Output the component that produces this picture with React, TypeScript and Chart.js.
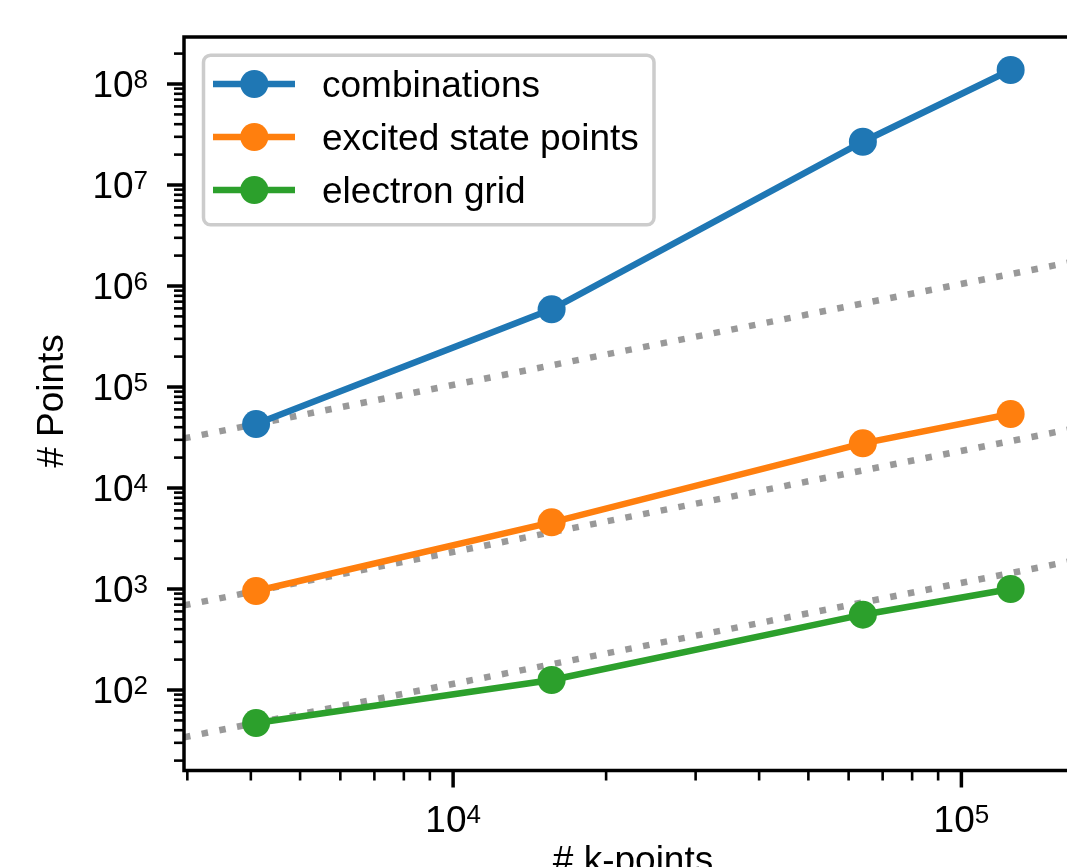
import React, { useEffect, useRef } from 'react';
import { Chart, registerables } from 'chart.js';

Chart.register(...registerables);

// ---- data ----
const kPoints = [4096, 15625, 64000, 125000];
const combinations = [43000, 587000, 26800000, 137600000];
const excitedStatePoints = [955, 4570, 27700, 54000];
const electronGrid = [47.1, 125.6, 557, 1000];

// dotted linear-scaling reference lines (endpoints at the axis limits)
const refX = [2955, 172700];
const refCombinations = [31000, 1813000];
const refExcited = [689, 40260];
const refElectron = [34.0, 1986];

const seriesLabels = ['combinations', 'excited state points', 'electron grid'];
const seriesColors = ['#1f77b4', '#ff7f0e', '#2ca02c'];
const refColor = '#999999';

const xRange = [2955, 172700];
const yRange = [15.96, 2.92e8];
const xTickExponents = [4, 5];
const yTickExponents = [2, 3, 4, 5, 6, 7, 8];
const xTitle = '# k-points';
const yTitle = '# Points';

const FONT = "'Liberation Sans', Arial, Helvetica, sans-serif";

const pts = (xs: number[], ys: number[]) => xs.map((x, i) => ({ x, y: ys[i] }));

const overlay = {
  id: 'overlay',
  afterDraw(chart: any) {
    const ctx: CanvasRenderingContext2D = chart.ctx;
    const { left, right, top, bottom } = chart.chartArea;
    const xs = chart.scales.x;
    const ys = chart.scales.y;
    ctx.save();

    // spines
    ctx.strokeStyle = '#000';
    ctx.lineWidth = 3.5;
    ctx.strokeRect(left, top, right - left, bottom - top);

    // ticks
    const drawTicks = (scale: any, isX: boolean) => {
      const min = scale.min;
      const max = scale.max;
      for (let e = Math.floor(Math.log10(min)); e <= Math.ceil(Math.log10(max)); e++) {
        for (let k = 1; k <= 9; k++) {
          const v = k * Math.pow(10, e);
          if (v < min * 0.9999 || v > max * 1.0001) continue;
          const p = scale.getPixelForValue(v);
          const major = k === 1;
          const len = major ? 17 : 10;
          ctx.lineWidth = major ? 3.5 : 2.6;
          ctx.beginPath();
          if (isX) {
            ctx.moveTo(p, bottom);
            ctx.lineTo(p, bottom + len);
          } else {
            ctx.moveTo(left, p);
            ctx.lineTo(left - len, p);
          }
          ctx.stroke();
        }
      }
    };
    drawTicks(xs, true);
    drawTicks(ys, false);

    // tick labels 10^n
    ctx.fillStyle = '#000';
    ctx.textAlign = 'left';
    ctx.textBaseline = 'alphabetic';
    const baseFont = `37px ${FONT}`;
    const supFont = `26px ${FONT}`;
    const measure = (exp: number) => {
      ctx.font = baseFont;
      const bw = ctx.measureText('10').width;
      ctx.font = supFont;
      const sw = ctx.measureText(String(exp)).width;
      return { bw, sw };
    };
    const drawPow = (x0: number, baseY: number, exp: number) => {
      const { bw } = measure(exp);
      ctx.font = baseFont;
      ctx.fillText('10', x0, baseY);
      ctx.font = supFont;
      ctx.fillText(String(exp), x0 + bw, baseY - 9);
    };
    yTickExponents.forEach((e) => {
      const v = Math.pow(10, e);
      if (v < ys.min || v > ys.max) return;
      const p = ys.getPixelForValue(v);
      const { bw, sw } = measure(e);
      drawPow(148 - bw - sw, p + 13.3, e);
    });
    xTickExponents.forEach((e) => {
      const v = Math.pow(10, e);
      if (v < xs.min || v > xs.max) return;
      const p = xs.getPixelForValue(v);
      const { bw, sw } = measure(e);
      drawPow(p - (bw + sw) / 2, 831.7, e);
    });

    // axis titles
    ctx.font = `37px ${FONT}`;
    ctx.textAlign = 'center';
    ctx.fillText(xTitle, (left + right) / 2, 871.5);
    ctx.save();
    ctx.translate(63, 401);
    ctx.rotate(-Math.PI / 2);
    ctx.fillText(yTitle, 0, 0);
    ctx.restore();

    // legend
    const lx = 203.5, ly = 55.3, lw = 450.5, lh = 169.4, r = 7;
    ctx.beginPath();
    ctx.moveTo(lx + r, ly);
    ctx.lineTo(lx + lw - r, ly);
    ctx.arcTo(lx + lw, ly, lx + lw, ly + r, r);
    ctx.lineTo(lx + lw, ly + lh - r);
    ctx.arcTo(lx + lw, ly + lh, lx + lw - r, ly + lh, r);
    ctx.lineTo(lx + r, ly + lh);
    ctx.arcTo(lx, ly + lh, lx, ly + lh - r, r);
    ctx.lineTo(lx, ly + r);
    ctx.arcTo(lx, ly, lx + r, ly, r);
    ctx.closePath();
    ctx.fillStyle = 'rgba(255,255,255,0.8)';
    ctx.fill();
    ctx.strokeStyle = '#cccccc';
    ctx.lineWidth = 3.5;
    ctx.stroke();

    const rows = [84, 137, 190];
    seriesLabels.forEach((lab, i) => {
      const y = rows[i];
      ctx.strokeStyle = seriesColors[i];
      ctx.lineWidth = 6.5;
      ctx.beginPath();
      ctx.moveTo(213, y);
      ctx.lineTo(295, y);
      ctx.stroke();
      ctx.fillStyle = seriesColors[i];
      ctx.beginPath();
      ctx.arc(254.3, y, 14, 0, Math.PI * 2);
      ctx.fill();
      ctx.fillStyle = '#000';
      ctx.font = `37px ${FONT}`;
      ctx.textAlign = 'left';
      ctx.fillText(lab, 322, y + 13);
    });

    ctx.restore();
  },
};

export default function App() {
  const ref = useRef<HTMLCanvasElement>(null);

  useEffect(() => {
    const mainSeries = [combinations, excitedStatePoints, electronGrid].map((vals, i) => ({
      label: seriesLabels[i],
      data: pts(kPoints, vals),
      borderColor: seriesColors[i],
      backgroundColor: seriesColors[i],
      borderWidth: 6.5,
      pointRadius: 14,
      pointHoverRadius: 14,
      pointBackgroundColor: seriesColors[i],
      pointBorderWidth: 0,
      tension: 0,
      order: 0,
    }));
    const refSeries = [refCombinations, refExcited, refElectron].map((vals, i) => ({
      label: 'ref' + i,
      data: pts(refX, vals),
      borderColor: refColor,
      backgroundColor: refColor,
      borderWidth: 6.5,
      borderDash: [6.5, 11.5],
      borderCapStyle: 'butt' as const,
      pointRadius: 0,
      pointHoverRadius: 0,
      tension: 0,
      order: 1,
    }));

    const chart = new Chart(ref.current!, {
      type: 'line',
      data: { datasets: [...mainSeries, ...refSeries] as any },
      options: {
        animation: false,
        responsive: false,
        events: [],
        layout: { padding: { left: 184, top: 37, right: 18, bottom: 96.5 } },
        scales: {
          x: {
            type: 'logarithmic',
            min: xRange[0],
            max: xRange[1],
            bounds: 'data',
            display: false,
          },
          y: {
            type: 'logarithmic',
            min: yRange[0],
            max: yRange[1],
            bounds: 'data',
            display: false,
          },
        },
        plugins: {
          legend: { display: false },
          tooltip: { enabled: false },
        },
      } as any,
      plugins: [overlay],
    });
    return () => chart.destroy();
  }, []);

  return (
    <div
      style={{
        position: 'fixed',
        left: 0,
        top: 0,
        width: 1067,
        height: 867,
        overflow: 'hidden',
        background: '#fff',
      }}
    >
      <canvas ref={ref} width={1100} height={867} style={{ display: 'block', width: 1100, height: 867 }} />
    </div>
  );
}
